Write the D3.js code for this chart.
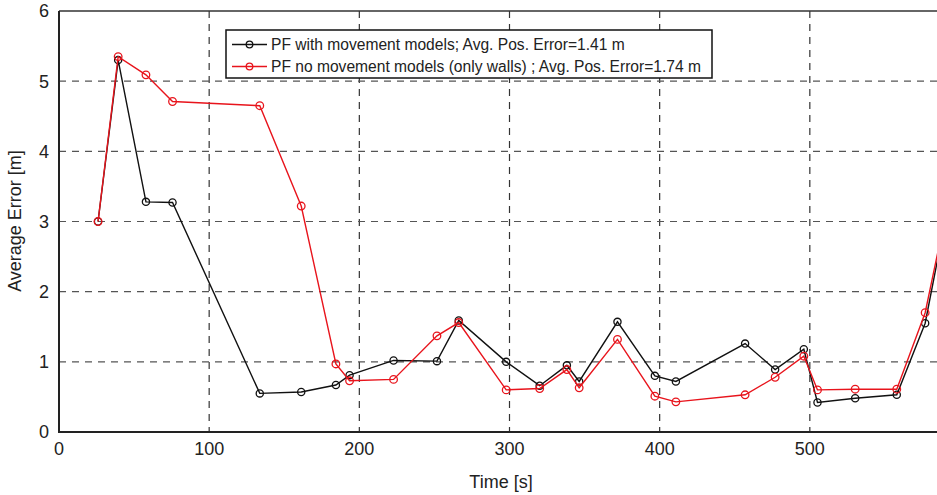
<!DOCTYPE html>
<html><head><meta charset="utf-8">
<script src="https://cdn.jsdelivr.net/npm/d3@7"></script>
<style>body{margin:0;background:#fff}svg{display:block}text{font-family:"Liberation Sans",Arial,Helvetica,sans-serif;fill:#222}</style>
</head><body>
<script>
const time = [26, 39.4, 57.9, 75.6, 133.7, 161.3, 184.4, 193.5, 222.8, 251.7, 266.2, 297.8, 320.1, 338.2, 346.4, 371.9, 396.8, 410.8, 456.9, 476.9, 496, 505.1, 530.2, 557.9, 576.8, 590];
const withModels = [3.0, 5.3, 3.28, 3.27, 0.55, 0.57, 0.67, 0.81, 1.02, 1.01, 1.59, 1.0, 0.66, 0.95, 0.72, 1.57, 0.80, 0.72, 1.26, 0.89, 1.18, 0.42, 0.48, 0.53, 1.55, 3.0];
const noModels = [3.0, 5.35, 5.09, 4.71, 4.65, 3.22, 0.97, 0.73, 0.75, 1.37, 1.56, 0.60, 0.62, 0.89, 0.63, 1.32, 0.51, 0.43, 0.53, 0.78, 1.08, 0.60, 0.61, 0.61, 1.70, 3.05];
const xTicks = [0, 100, 200, 300, 400, 500];
const yTicks = [0, 1, 2, 3, 4, 5, 6];
const seriesNames = ["PF with movement models; Avg. Pos. Error=1.41 m", "PF no movement models (only walls) ; Avg. Pos. Error=1.74 m"];

const W = 937, H = 495;
const L = 59, T = 11, B = 432, R = 960;
const svg = d3.select("body").append("svg").attr("width", W).attr("height", H);
const x = d3.scaleLinear().domain([0, 600]).range([L, R]);
const y = d3.scaleLinear().domain([0, 6]).range([B, T]);

svg.append("defs").append("clipPath").attr("id", "clip")
  .append("rect").attr("x", L).attr("y", T).attr("width", R - L).attr("height", B - T);

// grid
const g = svg.append("g");
g.selectAll(".vg").data(xTicks.filter(d => d > 0)).enter().append("line")
  .attr("x1", d => x(d)).attr("x2", d => x(d)).attr("y1", T).attr("y2", B)
  .attr("stroke", "#333").attr("stroke-width", 1.2).attr("stroke-dasharray", "7,6");
g.selectAll(".hg").data(yTicks.filter(d => d > 0 && d < 6)).enter().append("line")
  .attr("x1", L).attr("x2", R).attr("y1", d => y(d)).attr("y2", d => y(d))
  .attr("stroke", "#555").attr("stroke-width", 1.2).attr("stroke-dasharray", "7,6");

// borders
svg.append("line").attr("x1", L).attr("x2", R).attr("y1", T).attr("y2", T).attr("stroke", "#333").attr("stroke-width", 1.5);
svg.append("line").attr("x1", L).attr("x2", R).attr("y1", B).attr("y2", B).attr("stroke", "#222").attr("stroke-width", 2);
svg.append("line").attr("x1", L).attr("x2", L).attr("y1", T).attr("y2", B + 1).attr("stroke", "#222").attr("stroke-width", 2);

// tick labels
svg.selectAll(".xl").data(xTicks).enter().append("text")
  .attr("x", d => x(d)).attr("y", 455).attr("text-anchor", "middle").attr("font-size", 18).text(d => d);
svg.selectAll(".yl").data(yTicks).enter().append("text")
  .attr("x", 49).attr("y", d => y(d)).attr("dy", "0.36em").attr("text-anchor", "end").attr("font-size", 18).text(d => d);

svg.append("text").attr("x", 501).attr("y", 488).attr("text-anchor", "middle").attr("font-size", 18).text("Time [s]");
svg.append("text").attr("transform", "translate(21,221) rotate(-90)").attr("text-anchor", "middle").attr("font-size", 18).text("Average Error [m]");

// series
const series = [
  {vals: withModels, color: "#111", r: 3.6},
  {vals: noModels, color: "#e8141c", r: 3.8}
];
const plot = svg.append("g").attr("clip-path", "url(#clip)");
series.forEach(s => {
  const pts = time.map((t, i) => [t, s.vals[i]]);
  plot.append("path").datum(pts)
    .attr("d", d3.line().x(d => x(d[0])).y(d => y(d[1])))
    .attr("fill", "none").attr("stroke", s.color).attr("stroke-width", 1.4);
  plot.selectAll(null).data(pts).enter().append("circle")
    .attr("cx", d => x(d[0])).attr("cy", d => y(d[1])).attr("r", s.r)
    .attr("fill", "none").attr("stroke", s.color).attr("stroke-width", 1.3);
});

// legend
const lg = svg.append("g");
lg.append("rect").attr("x", 226).attr("y", 30).attr("width", 486).attr("height", 48)
  .attr("fill", "#fff").attr("stroke", "#111").attr("stroke-width", 1.5);
series.forEach((s, i) => {
  const yy = 44.5 + i * 22;
  lg.append("line").attr("x1", 232).attr("x2", 267).attr("y1", yy).attr("y2", yy).attr("stroke", s.color).attr("stroke-width", 1.4);
  lg.append("circle").attr("cx", 249.5).attr("cy", yy).attr("r", 3.3).attr("fill", "none").attr("stroke", s.color).attr("stroke-width", 1.3);
  lg.append("text").attr("x", 271).attr("y", yy).attr("dy", "0.36em").attr("font-size", 15.6).text(seriesNames[i]);
});
</script>
</body></html>
